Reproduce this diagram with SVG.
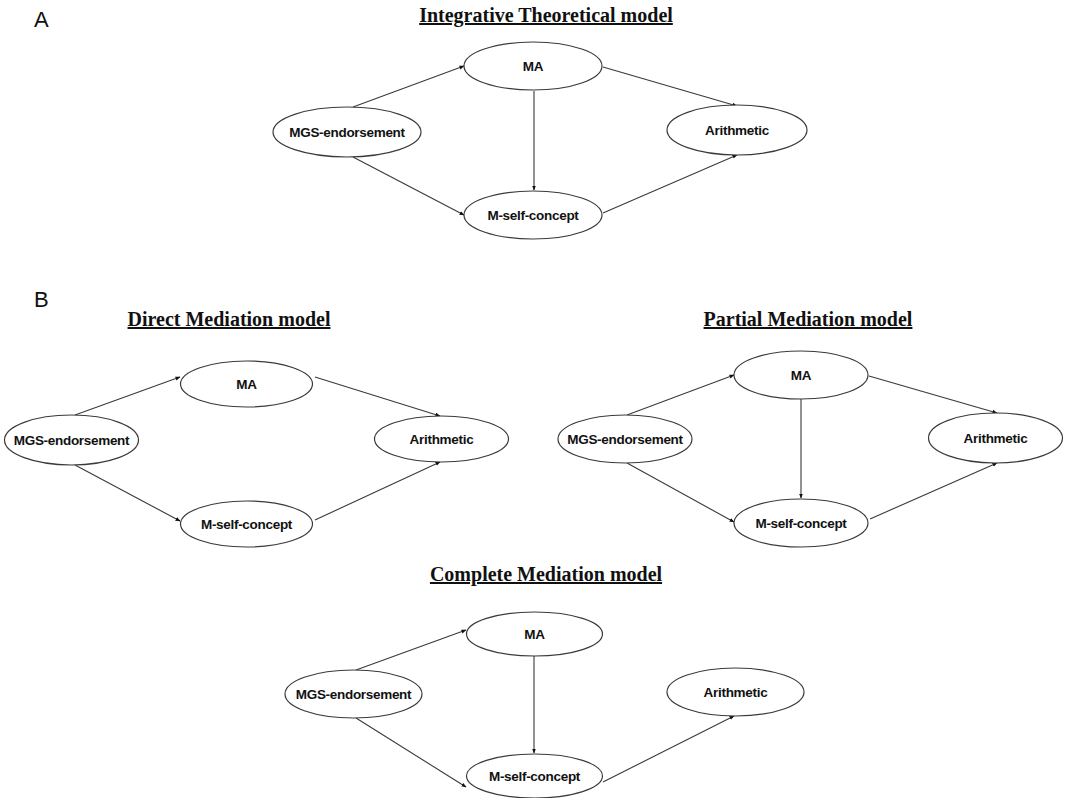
<svg xmlns="http://www.w3.org/2000/svg" width="1076" height="798" viewBox="0 0 1076 798">
<style>
.bg{fill:#ffffff}
.node ellipse{fill:#ffffff;stroke:#3a3a3a;stroke-width:1.2}
.node text{font-family:"Liberation Sans",Arial,sans-serif;font-weight:bold;font-size:13.5px;fill:#111;text-anchor:middle;letter-spacing:-0.3px}
.title{font-family:"Liberation Serif","Times New Roman",serif;font-weight:bold;font-size:20px;fill:#111;text-anchor:middle;text-decoration:underline}
.panel{font-family:"Liberation Sans",Arial,sans-serif;font-size:22px;fill:#111}
.edges line{stroke:#3a3a3a;stroke-width:1.1;marker-end:url(#ah)}
</style>
<defs>
<marker id="ah" viewBox="0 0 10 10" refX="9" refY="5" markerWidth="5" markerHeight="5" orient="auto" markerUnits="userSpaceOnUse">
<path d="M0,1 L10,5 L0,9 z" fill="#111"/>
</marker>
</defs>
<rect class="bg" x="0" y="0" width="1076" height="798"/>

<text class="panel" x="34" y="27">A</text>
<text class="panel" x="34" y="307">B</text>

<text class="title" x="546" y="22">Integrative Theoretical model</text>
<text class="title" x="229" y="326">Direct Mediation model</text>
<text class="title" x="808" y="326">Partial Mediation model</text>
<text class="title" x="546" y="581">Complete Mediation model</text>

<g class="edges" id="connectors">
<!-- A -->
<line x1="353" y1="107" x2="464" y2="66"/>
<line x1="603" y1="67" x2="737" y2="106"/>
<line x1="534" y1="91" x2="534" y2="190"/>
<line x1="353" y1="157" x2="464" y2="215"/>
<line x1="603" y1="213" x2="737" y2="155"/>
<!-- Direct -->
<line x1="75" y1="415" x2="180" y2="377"/>
<line x1="315" y1="377" x2="440" y2="416"/>
<line x1="75" y1="465" x2="180" y2="521"/>
<line x1="315" y1="520" x2="440" y2="462"/>
<!-- Partial -->
<line x1="627" y1="415" x2="734" y2="375"/>
<line x1="869" y1="376" x2="997" y2="413"/>
<line x1="801" y1="398" x2="801" y2="498"/>
<line x1="627" y1="463" x2="734" y2="522"/>
<line x1="870" y1="519" x2="997" y2="463"/>
<!-- Complete -->
<line x1="356" y1="670" x2="466" y2="630"/>
<line x1="534" y1="655" x2="534" y2="753"/>
<line x1="356" y1="718" x2="466" y2="787"/>
<line x1="603" y1="782" x2="734" y2="716"/>
</g>

<!-- A nodes -->
<g class="node" id="a-ma"><ellipse cx="533" cy="66" rx="69" ry="24"/><text x="533" y="71">MA</text></g>
<g class="node" id="a-mgs"><ellipse cx="347" cy="132" rx="74" ry="25"/><text x="347" y="137">MGS-endorsement</text></g>
<g class="node" id="a-arith"><ellipse cx="737" cy="130" rx="70" ry="25"/><text x="737" y="135">Arithmetic</text></g>
<g class="node" id="a-mself"><ellipse cx="533" cy="215" rx="69" ry="24"/><text x="533" y="220">M-self-concept</text></g>

<!-- Direct nodes -->
<g class="node" id="d-ma"><ellipse cx="246.5" cy="384" rx="66" ry="23"/><text x="246.5" y="389">MA</text></g>
<g class="node" id="d-mgs"><ellipse cx="71.5" cy="440" rx="67" ry="25"/><text x="71.5" y="445">MGS-endorsement</text></g>
<g class="node" id="d-arith"><ellipse cx="441.5" cy="439" rx="67" ry="23"/><text x="441.5" y="444">Arithmetic</text></g>
<g class="node" id="d-mself"><ellipse cx="246.5" cy="524" rx="66" ry="23"/><text x="246.5" y="529">M-self-concept</text></g>

<!-- Partial nodes -->
<g class="node" id="p-ma"><ellipse cx="801" cy="375" rx="67" ry="24"/><text x="801" y="380">MA</text></g>
<g class="node" id="p-mgs"><ellipse cx="625" cy="439" rx="67" ry="24"/><text x="625" y="444">MGS-endorsement</text></g>
<g class="node" id="p-arith"><ellipse cx="995.5" cy="438" rx="67" ry="25"/><text x="995.5" y="443">Arithmetic</text></g>
<g class="node" id="p-mself"><ellipse cx="801" cy="523" rx="67" ry="24"/><text x="801" y="528">M-self-concept</text></g>

<!-- Complete nodes -->
<g class="node" id="c-ma"><ellipse cx="534.5" cy="634" rx="68" ry="22"/><text x="534.5" y="639">MA</text></g>
<g class="node" id="c-mgs"><ellipse cx="353.5" cy="694" rx="68.5" ry="24"/><text x="353.5" y="699">MGS-endorsement</text></g>
<g class="node" id="c-arith"><ellipse cx="735.5" cy="692" rx="68.5" ry="24"/><text x="735.5" y="697">Arithmetic</text></g>
<g class="node" id="c-mself"><ellipse cx="534.5" cy="776" rx="68" ry="22"/><text x="534.5" y="781">M-self-concept</text></g>
</svg>
